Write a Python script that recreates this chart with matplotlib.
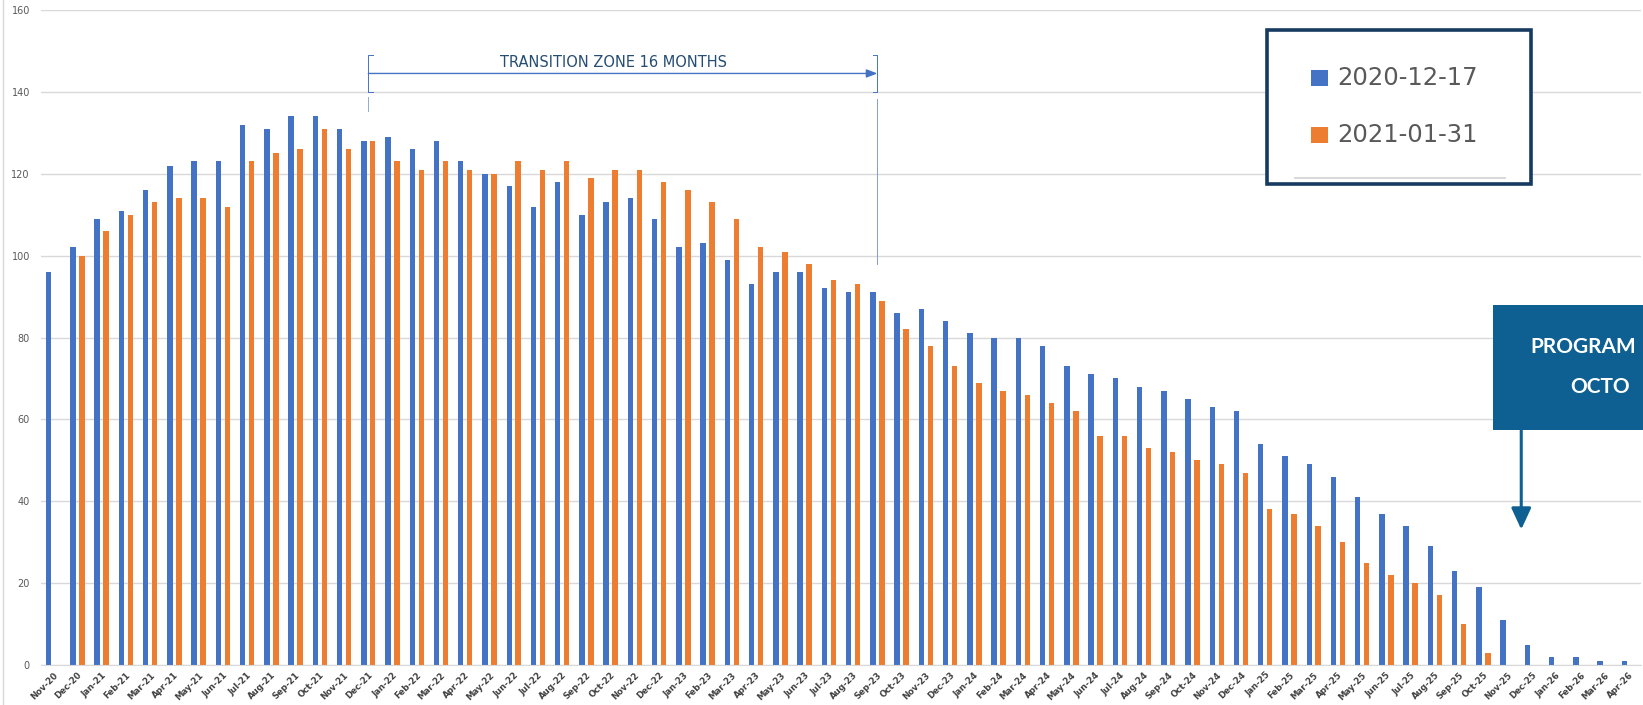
import numpy as np
import pandas as pd
import matplotlib
matplotlib.use("Agg")
import matplotlib.pyplot as plt
from matplotlib.patches import Rectangle
from matplotlib.lines import Line2D


# month labels Nov-20 .. Apr-26
months = list(pd.date_range("2020-11-01", periods=66, freq="MS").strftime("%b-%y"))

blue = [96, 102, 109, 111, 116, 122, 123, 123, 132, 131, 134, 134, 131, 128,
        129, 126, 128, 123, 120, 117, 112, 118, 110, 113, 114, 109,
        102, 103, 99, 93, 96, 96, 92, 91, 91, 86, 87, 84,
        81, 80, 80, 78, 73, 71, 70, 68, 67, 65, 63, 62,
        54, 51, 49, 46, 41, 37, 34, 29, 23, 19, 11, 5,
        2, 2, 1, 1]

orange = [np.nan, 100, 106, 110, 113, 114, 114, 112, 123, 125, 126, 131, 126, 128,
          123, 121, 123, 121, 120, 123, 121, 123, 119, 121, 121, 118,
          116, 113, 109, 102, 101, 98, 94, 93, 89, 82, 78, 73,
          69, 67, 66, 64, 62, 56, 56, 53, 52, 50, 49, 47,
          38, 37, 34, 30, 25, 22, 20, 17, 10, 3, 0, 0,
          0, 0, 0, 0]

labels = ["2020-12-17", "2021-01-31"]
colors = ["#4472C4", "#ED7D31"]

W, H = 1643, 705


def fx(x):
    return x / W


def fy(y):
    return 1 - y / H


fig = plt.figure(figsize=(W / 100, H / 100), dpi=100)
ax = fig.add_axes([fx(41), fy(665), fx(1641) - fx(41), fy(10) - fy(665)])

x = np.arange(len(months))
ax.bar(x - 0.185, blue, 0.225, color=colors[0], zorder=2)
ax.bar(x + 0.185, orange, 0.225, color=colors[1], zorder=2)

ax.set_xlim(-0.5, len(months) - 0.5)
ax.set_ylim(0, 160)
ax.set_yticks(range(0, 161, 20))
ax.grid(axis="y", color="#D9D9D9", lw=1, zorder=0)
for s in ["top", "right", "left"]:
    ax.spines[s].set_visible(False)
ax.spines["bottom"].set_color("#D9D9D9")
ax.tick_params(axis="y", length=0, pad=8, labelsize=7, labelcolor="#595959")
ax.tick_params(axis="x", length=0, pad=4)
ax.set_xticks(x)
ax.set_xticklabels(months, rotation=45, ha="right", rotation_mode="anchor",
                   fontsize=6.2, color="#404040", fontweight="bold")

# chart border on the left
fig.add_artist(Line2D([fx(3), fx(3)], [0, 1], color="#D9D9D9", lw=1))

# transition zone bracket
tz = "#4472C4"
x0, x1 = 13, 34
for xb, d in [(x0, 0.19), (x1, -0.19)]:
    ax.plot([xb + d, xb, xb, xb + d], [149, 149, 140, 140], color=tz, lw=0.7, clip_on=False)
ax.annotate("", xy=(x1, 144.5), xytext=(x0, 144.5),
            arrowprops=dict(arrowstyle="-|>,head_length=0.65,head_width=0.25",
                            color=tz, lw=1, shrinkA=0, shrinkB=0))
ax.plot([x0, x0], [138.8, 135.3], color="#8FAADC", lw=0.7)
ax.plot([x1, x1], [138.3, 98], color="#7F9FD8", lw=0.7)
ax.text((x0 + x1) / 2 - 0.4, 147.2, "TRANSITION ZONE 16 MONTHS", ha="center", va="center",
        fontsize=10.5, color="#264D73")

# legend box
fig.add_artist(Rectangle((fx(1267), fy(184)), fx(1531) - fx(1267), fy(30) - fy(184),
                         transform=fig.transFigure, facecolor="white",
                         edgecolor="#173A61", lw=2.6))
for i, yc in enumerate([78, 135]):
    fig.add_artist(Rectangle((fx(1311), fy(yc + 8)), fx(17), fy(0) - fy(16),
                             transform=fig.transFigure, facecolor=colors[i], edgecolor="none"))
    fig.text(fx(1337), fy(yc), labels[i], ha="left", va="center",
             fontsize=17.5, color="#595959")
fig.add_artist(Line2D([fx(1295), fx(1505)], [fy(178), fy(178)], color="#D9D9D9", lw=1.5))

# program box (cut at the right edge)
pc = "#0F6092"
fig.add_artist(Rectangle((fx(1493), fy(430)), 1.0 - fx(1493) + 0.01, fy(305) - fy(430),
                         transform=fig.transFigure, facecolor=pc, edgecolor="none"))
fig.text(fx(1530), fy(347), "PROGRAM", ha="left", va="center", color="white",
         fontsize=15, fontweight="bold", family="Lato")
fig.text(fx(1570), fy(387), "OCTO", ha="left", va="center", color="white",
         fontsize=15, fontweight="bold", family="Lato")
ax.annotate("", xy=(60.56, 33.1), xytext=(60.56, 57.4),
            arrowprops=dict(arrowstyle="-|>,head_length=1.3,head_width=0.6",
                            color=pc, lw=2.2, shrinkA=0, shrinkB=0))

fig.savefig("out.png", dpi=100)
